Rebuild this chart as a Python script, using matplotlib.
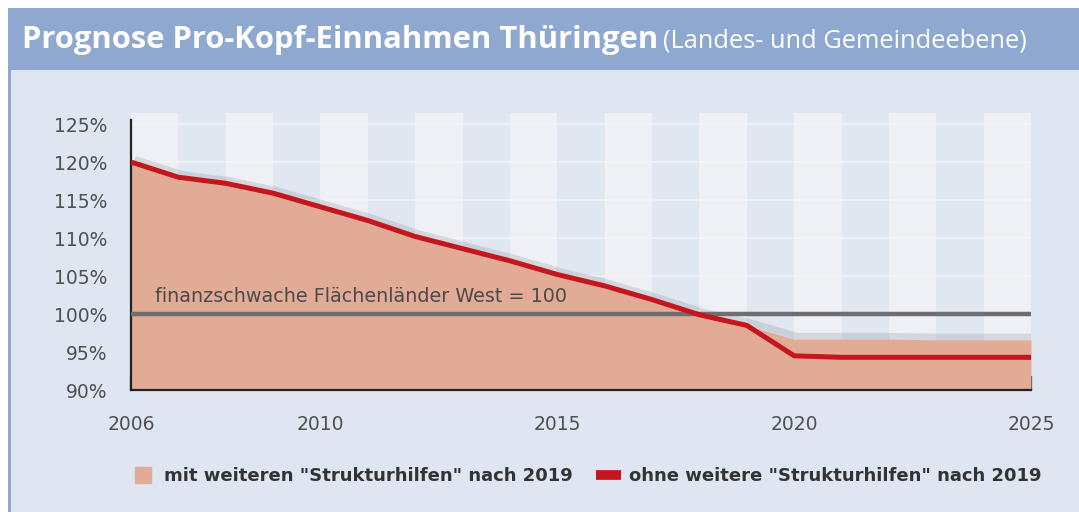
import matplotlib.pyplot as plt
from matplotlib.patches import Rectangle
from matplotlib.lines import Line2D
import numpy as np

# data
years = [2006, 2007, 2008, 2009, 2010, 2011, 2012, 2013, 2014, 2015,
         2016, 2017, 2018, 2019, 2020, 2021, 2022, 2023, 2024, 2025]
ohne = [120.0, 118.0, 117.2, 115.9, 114.1, 112.3, 110.2, 108.6, 107.0, 105.2,
        103.7, 101.9, 99.9, 98.5, 94.5, 94.3, 94.3, 94.3, 94.3, 94.3]
mit = [120.0, 118.0, 117.2, 115.9, 114.1, 112.3, 110.2, 108.6, 107.0, 105.2,
       103.7, 101.9, 99.9, 98.5, 96.7, 96.7, 96.7, 96.6, 96.6, 96.6]
reference = 100
y_ticks = [90, 95, 100, 105, 110, 115, 120, 125]
x_labels = [2006, 2010, 2015, 2020, 2025]

title = 'Prognose Pro-Kopf-Einnahmen Thüringen'
subtitle = '(Landes- und Gemeindeebene)'
ref_label = 'finanzschwache Flächenländer West = 100'
label_mit = 'mit weiteren "Strukturhilfen" nach 2019'
label_ohne = 'ohne weitere "Strukturhilfen" nach 2019'

bg = '#dde6f1'
salmon = '#e2ab96'
red = '#c4161c'
grey = '#6e6e6e'
text_grey = '#505050'

W, H = 1079, 512
fig = plt.figure(figsize=(W / 100, H / 100), dpi=100)
fig.patch.set_facecolor('white')

# page background + title bar
fig.patches.append(Rectangle((8 / W, 0), 1, (H - 8) / H, transform=fig.transFigure,
                             facecolor=bg, edgecolor='none', zorder=-10))
fig.patches.append(Rectangle((8 / W, 0), 3 / W, (H - 8) / H, transform=fig.transFigure,
                             facecolor='#8fa9d0', edgecolor='none', zorder=-9))
fig.patches.append(Rectangle((8 / W, (H - 70) / H), 1, 62 / H, transform=fig.transFigure,
                             facecolor='#8ea8cf', edgecolor='none', zorder=-8))
t = fig.text(22 / W, (H - 40) / H, title, color='white', fontsize=22.3, fontweight='bold',
             family='Open Sans', va='center', ha='left')
fig.canvas.draw()
bb = t.get_window_extent()
fig.text(bb.x1 / W + 5 / W, (H - 41) / H, subtitle, color='white', fontsize=18.3,
         family='Open Sans', va='center', ha='left')

ax = fig.add_axes([131 / W, 122 / H, 900 / W, 277 / H])
ax.set_xlim(2006, 2025)
ax.set_ylim(90, 126.45)
ax.set_facecolor('#eef0f5')

# background stripes
for y0 in range(2007, 2025, 2):
    ax.axvspan(y0, y0 + 1, color='#dfe7f1', lw=0, zorder=0)
for v in y_ticks:
    ax.axhline(v, color='#f5f7fa', lw=1.2, alpha=0.8, zorder=0.5)

# shadow + area + lines
ax.plot(np.array(years) + 0.08, np.array(mit) + 0.35, color='#8d8f95', lw=5,
        alpha=0.25, solid_capstyle='butt', zorder=1)
ax.fill_between(years, 90, mit, color=salmon, lw=0, zorder=2)
ax.axhline(reference, color=grey, lw=3.2, zorder=3)
ax.plot(years, ohne, color=red, lw=3.6, solid_joinstyle='round', zorder=4)
ax.text(2006.5, 101.0, ref_label, color='#4a4a4a', fontsize=13.8, va='bottom', ha='left',
        zorder=5)

# axes styling
for s in ['top', 'right']:
    ax.spines[s].set_visible(False)
ax.spines['left'].set_color('#222222')
ax.spines['bottom'].set_color('#222222')
ax.spines['left'].set_linewidth(1.6)
ax.spines['bottom'].set_linewidth(1.6)
ax.spines['left'].set_bounds(90, 125.5)
ax.set_yticks(y_ticks)
ax.set_yticklabels([f'{v}%' for v in y_ticks], color=text_grey, fontsize=13.5)
ax.tick_params(axis='y', length=0, pad=17)
ax.set_xticks(x_labels)
ax.set_xticklabels([str(v) for v in x_labels], color=text_grey, fontsize=13.5)
ax.set_xticks(years, minor=True)
ax.tick_params(axis='x', which='major', direction='in', length=10, width=1.6,
               color='#222222', pad=18)
ax.tick_params(axis='x', which='minor', direction='in', length=5, width=1,
               color='#8a6a60')
for lab in ax.get_xticklabels():
    lab.set_zorder(6)

handles = [Line2D([], [], color=salmon, marker='s', markersize=12, linestyle=''),
           Line2D([], [], color=red, lw=7, solid_capstyle='butt')]
leg = fig.legend(handles, [label_mit, label_ohne], loc='center left',
                 bbox_to_anchor=(114 / W, (H - 476) / H), ncol=2, frameon=False,
                 prop={'size': 13, 'weight': 'bold'}, handlelength=1.4,
                 columnspacing=1.3, handletextpad=0.45, labelcolor='#333333')

fig.savefig('out.png', dpi=100)
